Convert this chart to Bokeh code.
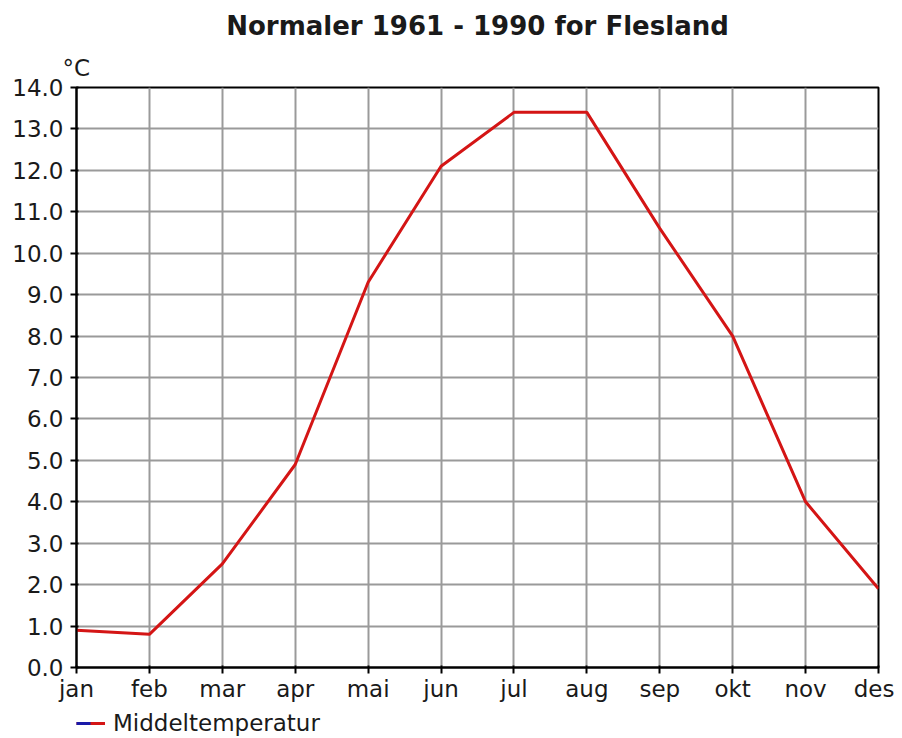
from bokeh.plotting import figure
from bokeh.layouts import column
from bokeh.models import (FixedTicker, NumeralTickFormatter, Legend, LegendItem,
                          Title, ColumnDataSource, Range1d)
from bokeh.embed import file_html
from bokeh.resources import INLINE

# ---- data ----
title_text = "Normaler 1961 - 1990 for Flesland"
unit_label = "°C"
series_name = "Middeltemperatur"
months = ["jan", "feb", "mar", "apr", "mai", "jun", "jul", "aug", "sep", "okt", "nov", "des"]
mean_temp = [0.9, 0.8, 2.5, 4.9, 9.3, 12.1, 13.4, 13.4, 10.6, 8.0, 4.0, 1.9]
y_ticks = [0.0, 1.0, 2.0, 3.0, 4.0, 5.0, 6.0, 7.0, 8.0, 9.0, 10.0, 11.0, 12.0, 13.0, 14.0]

FONT = "DejaVu Sans"
TEXT_COLOR = "#1a1a1a"
RED = "#d41515"
BLUE = "#1a1aa8"

x_index = list(range(len(months)))
src = ColumnDataSource(dict(x=x_index, y=mean_temp, month=months))

p = figure(frame_width=802, frame_height=580, output_backend="svg", toolbar_location=None,
           x_range=Range1d(x_index[0], x_index[-1]),
           y_range=Range1d(y_ticks[0], y_ticks[-1]),
           min_border_left=76, min_border_right=16, min_border_top=87,
           min_border_bottom=40)

p.background_fill_color = "white"
p.border_fill_color = "white"
p.outline_line_color = "black"
p.outline_line_width = 2

# unit label row directly above the frame (left aligned at the y axis)
unit_title = Title(text=unit_label, align="left", offset=-14, standoff=14,
                   text_font=FONT, text_font_size="23px", text_font_style="normal",
                   text_color=TEXT_COLOR)
p.add_layout(unit_title, "above")

# main title
p.title.text = title_text
p.title.text_font = FONT
p.title.text_font_size = "26px"
p.title.text_font_style = "bold"
p.title.text_color = TEXT_COLOR
p.title.align = "center"
p.title.standoff = 9

# grid
for g in (p.xgrid, p.ygrid):
    g.grid_line_color = "#9a9a9a"
    g.grid_line_width = 2

# axes
xa = p.xaxis[0]
xa.ticker = FixedTicker(ticks=x_index)
xa.major_label_overrides = {i: m for i, m in zip(x_index, months)}
ya = p.yaxis[0]
ya.ticker = FixedTicker(ticks=y_ticks)
ya.formatter = NumeralTickFormatter(format="0.0")
for ax in (xa, ya):
    ax.axis_line_color = "black"
    ax.axis_line_width = 2
    ax.major_tick_line_color = "black"
    ax.major_tick_line_width = 2
    ax.major_tick_out = 6
    ax.major_tick_in = 2
    ax.minor_tick_line_color = None
    ax.major_label_text_font = FONT
    ax.major_label_text_font_size = "23px"
    ax.major_label_text_color = TEXT_COLOR
xa.major_label_standoff = 2
ya.major_label_standoff = 7

# data line
p.line(x="x", y="y", source=src, line_color=RED, line_width=3)

# ---- legend strip below the chart ----
lg = figure(width=894, height=31, output_backend="svg", toolbar_location=None,
            x_axis_type=None, y_axis_type=None,
            min_border_left=0, min_border_right=0, min_border_top=0, min_border_bottom=0)
lg.outline_line_color = None
lg.background_fill_color = "white"
lg.border_fill_color = "white"
key_red = lg.line(x="x", y="y", source=src, line_color=RED, line_width=3, visible=False)
key_blue = lg.line(x="x", y="y", source=src, line_color=BLUE, line_width=3,
                   line_dash="14 60", visible=False)
legend = Legend(items=[LegendItem(label=series_name, renderers=[key_red, key_blue])],
                location=(0, 2), orientation="horizontal",
                glyph_width=29, glyph_height=20, label_standoff=8,
                padding=0, margin=0, spacing=0,
                border_line_color=None, background_fill_alpha=0,
                inactive_fill_alpha=0,
                label_text_font=FONT, label_text_font_size="23px",
                label_text_color=TEXT_COLOR)
lg.add_layout(legend, "center")

layout = column(p, lg, spacing=0)
open("out.html", "w").write(file_html(layout, INLINE))
